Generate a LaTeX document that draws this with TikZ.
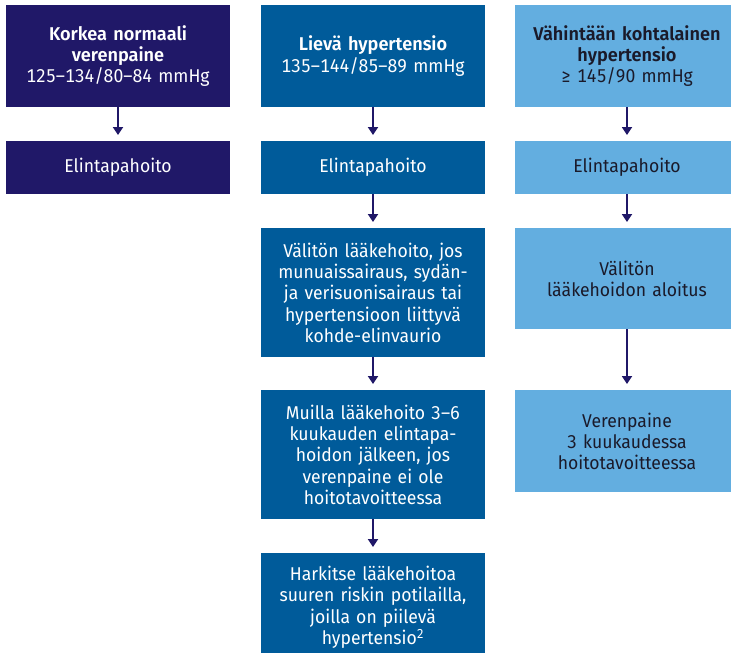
\documentclass[tikz,border=0pt]{standalone}
\usepackage{fontspec}
\setmainfont{Fira Sans}[FakeStretch=0.95, Numbers=Monospaced,
    BoldFont={Fira Sans SemiBold}, BoldFeatures={FakeStretch=0.98}]
\definecolor{BoxNormal}{HTML}{201868}
\definecolor{BoxLieva}{HTML}{005B9A}
\definecolor{BoxKohtalainen}{HTML}{63AEE0}
\definecolor{TextDark}{HTML}{1A1A2A}
\colorlet{ArrowLine}{BoxNormal}
\usetikzlibrary{arrows.meta}

\begin{document}
\begin{tikzpicture}[x=1pt, y=-1pt,
    box/.style={minimum width=224pt, text width=220pt, align=center,
        inner sep=0pt, anchor=north, font=\fontsize{18.5}{21.3}\selectfont},
    normalbox/.style={box, fill=BoxNormal, text=white},
    lievabox/.style={box, fill=BoxLieva, text=white},
    kohtalainenbox/.style={box, fill=BoxKohtalainen, text=TextDark},
    arrowline/.style={draw=ArrowLine, line width=1.8pt, shorten >=6pt,
        -{Triangle[width=10pt, length=8pt]}}]

    \def\colA{118}
    \def\colB{373}
    \def\colC{627}

    \useasboundingbox (0,0) rectangle (731,653);
    \clip (0,0) rectangle (731,653);

    % Columna 1: korkea normaali verenpaine
    \node[normalbox, minimum height=101.5pt] (normal) at (\colA,5)
        {\textbf{Korkea normaali}\\\textbf{verenpaine}\\125–134/80–84 mmHg};
    \node[normalbox, minimum height=53pt] (normalhoito) at (\colA,141)
        {Elintapahoito};

    % Columna 2: lievä hypertensio
    \node[lievabox, minimum height=101.5pt] (lieva) at (\colB,5)
        {\textbf{Lievä hypertensio}\\135–144/85–89 mmHg};
    \node[lievabox, minimum height=53pt] (lievahoito) at (\colB,141)
        {Elintapahoito};
    \node[lievabox, minimum height=129pt] (lievavaliton) at (\colB,228)
        {Välitön lääkehoito, jos\\munuaissairaus, sydän-\\ja verisuonisairaus tai\\hypertensioon liittyvä\\kohde-elinvaurio};
    \node[lievabox, minimum height=129pt] (lievamuilla) at (\colB,390)
        {Muilla lääkehoito 3–6\\kuukauden elintapa-\\hoidon jälkeen, jos\\verenpaine ei ole\\hoitotavoitteessa};
    \node[lievabox, minimum height=108pt] (lievaharkitse) at (\colB,553)
        {Harkitse lääkehoitoa\\suuren riskin potilailla,\\joilla on piilevä\\hypertensio\textsuperscript{2}};

    % Columna 3: vähintään kohtalainen hypertensio
    \node[kohtalainenbox, minimum height=101.5pt] (kohtalainen) at (\colC,5)
        {\textbf{Vähintään kohtalainen}\\\textbf{hypertensio}\\≥ 145/90 mmHg};
    \node[kohtalainenbox, minimum height=53pt] (kohtalainenhoito) at (\colC,141)
        {Elintapahoito};
    \node[kohtalainenbox, minimum height=101pt] (kohtalainenvaliton) at (\colC,228)
        {Välitön\\lääkehoidon aloitus};
    \node[kohtalainenbox, minimum height=102pt] (kohtalainentavoite) at (\colC,390)
        {Verenpaine\\3 kuukaudessa\\hoitotavoitteessa};

    % Flechas entre cajas
    \draw[arrowline] (normal) -- (normalhoito);
    \draw[arrowline] (lieva) -- (lievahoito);
    \draw[arrowline] (lievahoito) -- (lievavaliton);
    \draw[arrowline] (lievavaliton) -- (lievamuilla);
    \draw[arrowline] (lievamuilla) -- (lievaharkitse);
    \draw[arrowline] (kohtalainen) -- (kohtalainenhoito);
    \draw[arrowline] (kohtalainenhoito) -- (kohtalainenvaliton);
    \draw[arrowline] (kohtalainenvaliton) -- (kohtalainentavoite);
\end{tikzpicture}
\end{document}
